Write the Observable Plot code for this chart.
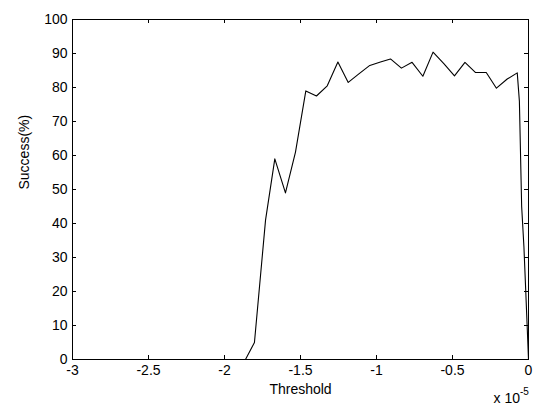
<!DOCTYPE html>
<html>
<head>
<meta charset="utf-8">
<script src="https://cdn.jsdelivr.net/npm/d3@7"></script>
<script src="https://cdn.jsdelivr.net/npm/@observablehq/plot@0.6"></script>
<style>
  html, body { margin: 0; padding: 0; background: #fff; overflow: hidden; }
  #chart svg { display: block; font-family: "Liberation Sans", Arial, sans-serif; color: #000; }
</style>
</head>
<body>
<div id="chart"></div>
<script>
// Threshold (units of 1e-5)
const threshold = [-3, -1.862, -1.803, -1.730, -1.669, -1.599, -1.533, -1.465, -1.395, -1.324,
  -1.254, -1.186, -1.116, -1.044, -0.974, -0.908, -0.836, -0.766, -0.695, -0.628,
  -0.557, -0.487, -0.418, -0.348, -0.278, -0.211, -0.140, -0.074, -0.060, -0.045,
  -0.030, -0.018, -0.008, 0];
// Success (%)
const success = [0, 0, 5, 41, 59, 49, 61, 79, 77.5, 80.5,
  87.5, 81.5, 84, 86.5, 87.5, 88.4, 85.7, 87.4, 83.3, 90.4,
  87, 83.4, 87.4, 84.4, 84.4, 79.8, 82.5, 84.3, 76, 45,
  33, 20, 9, 0];
const xTicks = [-3, -2.5, -2, -1.5, -1, -0.5, 0];
const yTicks = [0, 10, 20, 30, 40, 50, 60, 70, 80, 90, 100];

const data = threshold.map((t, i) => ({t, s: success[i]}));

const W = 537, H = 408;
const mL = 72, mR = 9, mT = 19, mB = 49;
const plotH = H - mT - mB, plotW = W - mL - mR;
const tick = 4;
const fmt = d => String(d);

const chart = Plot.plot({
  width: W, height: H,
  marginLeft: mL, marginRight: mR, marginTop: mT, marginBottom: mB,
  x: {domain: [-3, 0]},
  y: {domain: [0, 100]},
  marks: [
    Plot.frame({stroke: "black", strokeWidth: 1}),
    Plot.ruleX(xTicks, {x: d => d, insetTop: plotH - tick, stroke: "black"}),
    Plot.ruleX(xTicks, {x: d => d, insetBottom: plotH - tick, stroke: "black"}),
    Plot.ruleY(yTicks, {y: d => d, insetRight: plotW - tick, stroke: "black"}),
    Plot.ruleY(yTicks, {y: d => d, insetLeft: plotW - tick, stroke: "black"}),
    Plot.axisX({ticks: xTicks, tickSize: 0, tickPadding: 6, tickFormat: fmt, label: null, fontSize: 14}),
    Plot.axisY({ticks: yTicks, tickSize: 0, tickPadding: 5, tickFormat: fmt, label: null, fontSize: 14}),
    Plot.line(data, {x: "t", y: "s", stroke: "black", strokeWidth: 1.1}),
    Plot.text(["Threshold"], {frameAnchor: "bottom", dy: 30, lineAnchor: "middle", fontSize: 14, fill: "black"}),
    Plot.text(["Success(%)"], {frameAnchor: "left", dx: -48, rotate: -90, fontSize: 14, fill: "black"}),
  ]
});

// "x 10^-5" exponent label below the axis at right
const svg = d3.select(chart);
svg.append("text")
  .attr("x", 520).attr("y", 403)
  .attr("text-anchor", "end")
  .attr("font-size", 14)
  .attr("fill", "black")
  .text("x 10");
svg.append("text")
  .attr("x", 520).attr("y", 395)
  .attr("text-anchor", "start")
  .attr("font-size", 10)
  .attr("fill", "black")
  .text("-5");

document.getElementById("chart").appendChild(chart);
</script>
</body>
</html>
